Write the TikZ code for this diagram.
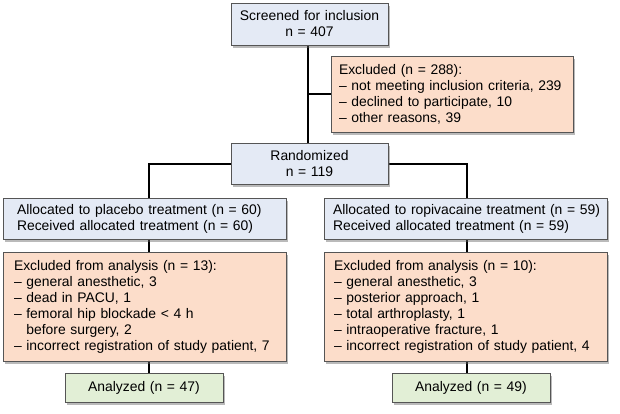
\documentclass[tikz,border=0pt]{standalone}
\usepackage{fontspec}
\setmainfont{Liberation Sans}
\usetikzlibrary{shadows,backgrounds}
\definecolor{bluefill}{RGB}{228,234,245}
\definecolor{salmonfill}{RGB}{252,221,202}
\definecolor{greenfill}{RGB}{226,239,214}
\definecolor{bordergray}{RGB}{85,85,85}
\tikzset{
  basebox/.style={draw=bordergray, line width=0.9pt, inner ysep=0pt,
    drop shadow={shadow xshift=2.2pt, shadow yshift=-2.6pt, opacity=0.45, fill=black!60},
    font=\fontsize{13.9}{16}\selectfont},
  bluebox/.style={basebox, fill=bluefill},
  salmonbox/.style={basebox, fill=salmonfill},
  greenbox/.style={basebox, fill=greenfill},
  conn/.style={draw=black, line width=2pt}
}
\begin{document}
\begin{tikzpicture}[x=1pt,y=-1pt]
\useasboundingbox (0,0) rectangle (620,414);
% top
\node[bluebox, align=center, text width=155pt, inner xsep=1pt, minimum height=42pt] (scr) at (309.5,24) {Screened for inclusion\\n = 407};
\node[salmonbox, align=left, text width=226pt, inner xsep=8pt, minimum height=76pt] (exA) at (452,94) {Excluded (n = 288):\\\mbox{– not meeting inclusion criteria, 239}\\– declined to participate, 10\\– other reasons, 39};
\node[bluebox, align=center, text width=155pt, inner xsep=1pt, minimum height=41pt] (rand) at (309.5,163.5) {Randomized\\n = 119};
% left arm
\node[bluebox, align=left, text width=255pt, inner xsep=14pt, minimum height=41pt] (alL) at (144.5,218.5) {\mbox{Allocated to placebo treatment (n = 60)}\\\mbox{Received allocated treatment (n = 60)}};
\node[salmonbox, align=left, text width=261pt, inner xsep=11pt, minimum height=109pt] (exL) at (144.5,306.5) {Excluded from analysis (n = 13):\\– general anesthetic, 3\\– dead in PACU, 1\\– femoral hip blockade < 4 h\\\phantom{– }before surgery, 2\\\mbox{– incorrect registration of study patient, 7}};
\node[greenbox, align=center, text width=156pt, inner xsep=1pt, minimum height=29pt] (anL) at (144,387.5) {Analyzed (n = 47)};
% right arm
\node[bluebox, align=left, text width=265pt, inner xsep=9pt, minimum height=41pt] (alR) at (465.5,218.5) {\mbox{Allocated to ropivacaine treatment (n = 59)}\\\mbox{Received allocated treatment (n = 59)}};
\node[salmonbox, align=left, text width=263pt, inner xsep=10pt, minimum height=109pt] (exR) at (465.5,306.5) {Excluded from analysis (n = 10):\\– general anesthetic, 3\\– posterior approach, 1\\– total arthroplasty, 1\\– intraoperative fracture, 1\\\mbox{– incorrect registration of study patient, 4}};
\node[greenbox, align=center, text width=156pt, inner xsep=1pt, minimum height=29pt] (anR) at (471,387.5) {Analyzed (n = 49)};
% connector x positions
\coordinate (tx) at (308,0);
\coordinate (lx) at (149,0);
\coordinate (rx) at (467,0);
\begin{scope}[on background layer]
\draw[conn] (scr.south -| tx) -- (rand.north -| tx);
\draw[conn] (exA.west) -- (exA.west -| tx);
\draw[conn] (rand.west) -| (alL.north -| lx);
\draw[conn] (rand.east) -| (alR.north -| rx);
\draw[conn] (alL.south -| lx) -- (exL.north -| lx);
\draw[conn] (exL.south -| lx) -- (anL.north -| lx);
\draw[conn] (alR.south -| rx) -- (exR.north -| rx);
\draw[conn] (exR.south -| rx) -- (anR.north -| rx);
\end{scope}
\end{tikzpicture}
\end{document}
